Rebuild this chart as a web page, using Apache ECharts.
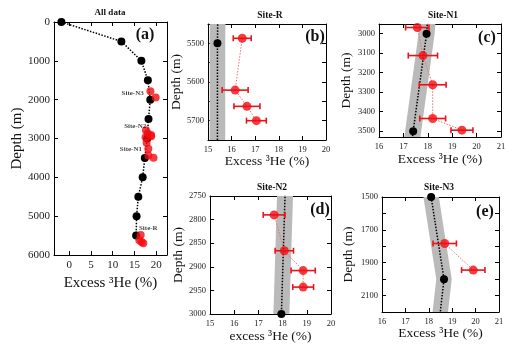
<!DOCTYPE html>
<html>
<head>
<meta charset="utf-8">
<script src="https://cdn.jsdelivr.net/npm/echarts@6.0.0/dist/echarts.min.js"></script>
<style>
  html, body { margin: 0; padding: 0; background: #fff; }
  #chart { width: 520px; height: 351px; }
</style>
</head>
<body>
<div id="chart"></div>
<script>
"use strict";
// black profile (all data)
const profileDepth = [0, 500, 1000, 1500, 2000, 2500, 3000, 3500, 4000, 4500, 5000, 5500];
const profileHe = [-1.8, 12.0, 16.6, 18.1, 18.65, 18.25, 17.95, 17.4, 16.9, 15.9, 15.5, 15.4];
// the profile is carried on below its last sample in the zoomed panels
const profileTailDepth = 6000;
const profileTailHe = 15.4;
const bandHalfWidth = 0.33;

// red site samples
const siteRDepth = [5487, 5621, 5663, 5700];
const siteRHe = [16.45, 16.15, 16.65, 17.05];
const siteRErr = [0.38, 0.55, 0.55, 0.42];

const siteN1Depth = [2968, 3112, 3262, 3435, 3495];
const siteN1He = [17.57, 17.8, 18.2, 18.2, 19.4];
const siteN1Err = [0.48, 0.6, 0.55, 0.53, 0.45];

const siteN2Depth = [2790, 2866, 2908, 2943];
const siteN2He = [17.65, 18.07, 18.85, 18.85];
const siteN2Err = [0.45, 0.38, 0.5, 0.43];

const siteN3Depth = [1783, 1945];
const siteN3He = [18.68, 19.9];
const siteN3Err = [0.5, 0.5];

// site labels in panel (a)
const siteLabelNames = ["Site-N3", "Site-N2", "Site-N1", "Site-R"];
const siteLabelHe = [14.6, 15.2, 14.2, 18.2];
const siteLabelDepth = [1830, 2680, 3270, 5320];

// tick values
const ticksA_x = [0, 5, 10, 15, 20];
const ticksA_y = [0, 1000, 2000, 3000, 4000, 5000, 6000];
const ticksB_x = [15, 16, 17, 18, 19, 20];
const ticksB_y = [5450, 5500, 5550, 5600, 5650, 5700, 5750];
const labelsB_y = [5500, 5600, 5700];
const ticksC_x = [16, 17, 18, 19, 20, 21];
const ticksC_y = [3000, 3100, 3200, 3300, 3400, 3500];
const ticksD_x = [15, 16, 17, 18, 19, 20];
const ticksD_y = [2750, 2800, 2850, 2900, 2950, 3000];
const ticksE_x = [16, 17, 18, 19, 20, 21];
const ticksE_y = [1500, 1600, 1700, 1800, 1900, 2000, 2100, 2200];
const labelsE_y = [1500, 1700, 1900, 2100];

const FONT = '"Liberation Serif", "Times New Roman", serif';

const zip = (a, b) => a.map((v, i) => [v, b[i]]);
const profilePts = zip(profileHe, profileDepth);
const profileExt = profilePts.concat([[profileTailHe, profileTailDepth]]);

const panels = [
    { grid: { left: 54, top: 22, width: 113, height: 233 }, x: [-3.5, 22.5], y: [0, 6000],
      xt: ticksA_x, xl: ticksA_x, yt: ticksA_y, yl: ticksA_y, big: true,
      xName: "Excess \u00b3He (%)", xGap: 13, yGap: 29 },
    { grid: { left: 208, top: 24, width: 118, height: 116 }, x: [15, 20], y: [5450, 5750],
      xt: ticksB_x, xl: ticksB_x, yt: ticksB_y, yl: labelsB_y,
      xName: "Excess \u00b3He (%)", xGap: 12, yGap: 20 },
    { grid: { left: 379, top: 24, width: 122, height: 113 }, x: [16, 21], y: [2950, 3530],
      xt: ticksC_x, xl: ticksC_x, yt: ticksC_y, yl: ticksC_y,
      xName: "Excess \u00b3He (%)", xGap: 15, yGap: 26 },
    { grid: { left: 210, top: 196, width: 121, height: 118 }, x: [15, 20], y: [2750, 3000],
      xt: ticksD_x, xl: ticksD_x, yt: ticksD_y, yl: ticksD_y,
      xName: "excess \u00b3He (%)", xGap: 15, yGap: 24 },
    { grid: { left: 382, top: 197, width: 117, height: 115 }, x: [16, 21], y: [1500, 2200],
      xt: ticksE_x, xl: ticksE_x, yt: ticksE_y, yl: labelsE_y,
      xName: "Excess \u00b3He (%)", xGap: 14, yGap: 27 },
];

const grid = [];
const xAxis = [];
const yAxis = [];
panels.forEach((p, i) => {
    grid.push(p.grid);
    const labelSize = p.big ? 11 : 8.5;
    const nameSize = p.big ? 15 : 13.5;
    const line = { show: true, onZero: false, lineStyle: { color: "#000", width: 1 } };
    const tick = (vals) => ({ show: true, inside: true, length: 4, customValues: vals, lineStyle: { color: "#000" } });
    const plain = (v) => String(v);
    xAxis.push({
        type: "value", gridIndex: i, min: p.x[0], max: p.x[1], position: "bottom",
        axisLine: line, axisTick: tick(p.xt), splitLine: { show: false },
        axisLabel: { customValues: p.xl, formatter: plain, fontFamily: FONT, fontSize: labelSize, color: "#222", margin: 5 },
        name: p.xName, nameLocation: "middle", nameGap: p.xGap,
        nameTextStyle: { fontFamily: FONT, fontSize: nameSize, color: "#111" },
    });
    xAxis.push({
        type: "value", gridIndex: i, min: p.x[0], max: p.x[1], position: "top",
        axisLine: line, axisTick: tick(p.xt), splitLine: { show: false }, axisLabel: { show: false },
    });
    yAxis.push({
        type: "value", gridIndex: i, min: p.y[0], max: p.y[1], inverse: true, position: "left",
        axisLine: line, axisTick: tick(p.yt), splitLine: { show: false },
        axisLabel: { customValues: p.yl, formatter: plain, fontFamily: FONT, fontSize: labelSize, color: "#222", margin: 4 },
        name: "Depth (m)", nameLocation: "middle", nameGap: p.yGap,
        nameTextStyle: { fontFamily: FONT, fontSize: nameSize, color: "#111" },
    });
    yAxis.push({
        type: "value", gridIndex: i, min: p.y[0], max: p.y[1], inverse: true, position: "right",
        axisLine: line, axisTick: tick(p.yt), splitLine: { show: false }, axisLabel: { show: false },
    });
});

const series = [];

// gray band around the black profile
const bandSeries = (i) => ({
    type: "custom", xAxisIndex: i * 2, yAxisIndex: i * 2, clip: true, z: 1,
    data: profileExt,
    renderItem: (params, api) => {
        if (params.dataIndex !== 0) {
            return null;
        }
        const left = profileExt.map(([he, d]) => api.coord([he - bandHalfWidth, d]));
        const right = profileExt.map(([he, d]) => api.coord([he + bandHalfWidth, d])).reverse();
        const cs = params.coordSys;
        return {
            type: "polygon",
            shape: { points: left.concat(right) },
            style: { fill: "#bababa" },
            clipPath: { type: "rect", shape: { x: cs.x, y: cs.y, width: cs.width, height: cs.height } },
        };
    },
});

const blackLine = (i, pts) => ({
    type: "line", xAxisIndex: i * 2, yAxisIndex: i * 2, data: pts, z: 3,
    symbol: "circle", symbolSize: (v) => v[1] === profileTailDepth ? 0 : 8,
    itemStyle: { color: "#000" },
    lineStyle: { color: "#000", width: 1.5, type: [1.5, 1.5] },
    clip: true, animation: false,
});

const errorBars = (i, he, depth, err) => ({
    type: "custom", xAxisIndex: i * 2, yAxisIndex: i * 2, z: 5,
    data: he.map((v, k) => [v, depth[k], err[k]]),
    encode: { x: 0, y: 1 },
    renderItem: (params, api) => {
        const lo = api.coord([api.value(0) - api.value(2), api.value(1)]);
        const hi = api.coord([api.value(0) + api.value(2), api.value(1)]);
        const st = { stroke: "#e8141a", lineWidth: 1.6 };
        return {
            type: "group",
            children: [
                { type: "line", shape: { x1: lo[0], y1: lo[1], x2: hi[0], y2: hi[1] }, style: st },
                { type: "line", shape: { x1: lo[0], y1: lo[1] - 3, x2: lo[0], y2: lo[1] + 3 }, style: st },
                { type: "line", shape: { x1: hi[0], y1: hi[1] - 3, x2: hi[0], y2: hi[1] + 3 }, style: st },
            ],
        };
    },
});

const redLine = (i, he, depth) => ({
    type: "line", xAxisIndex: i * 2, yAxisIndex: i * 2, data: zip(he, depth), z: 4,
    symbol: "none", lineStyle: { color: "#f07070", width: 1, type: [1.5, 1.5] },
});

const redDots = (i, he, depth, size) => ({
    type: "scatter", xAxisIndex: i * 2, yAxisIndex: i * 2, data: zip(he, depth), z: 6,
    symbolSize: size, itemStyle: { color: "#f20c12" },
});

// panel (a): all data
series.push(blackLine(0, profilePts));
[[siteN3He, siteN3Depth], [siteN2He, siteN2Depth], [siteN1He, siteN1Depth], [siteRHe, siteRDepth]]
    .forEach(([he, d]) => series.push(redDots(0, he, d, 8)));
series.push({
    type: "scatter", xAxisIndex: 0, yAxisIndex: 0, z: 7, symbolSize: 0,
    data: siteLabelHe.map((v, k) => ({ value: [v, siteLabelDepth[k]], name: siteLabelNames[k] })),
    label: { show: true, position: "inside", formatter: "{b}", fontFamily: FONT, fontSize: 7, fontWeight: "bold", color: "#111" },
});

// zoomed panels
const sites = [
    [1, siteRHe, siteRDepth, siteRErr],
    [2, siteN1He, siteN1Depth, siteN1Err],
    [3, siteN2He, siteN2Depth, siteN2Err],
    [4, siteN3He, siteN3Depth, siteN3Err],
];
sites.forEach(([i, he, d, e]) => {
    series.push(bandSeries(i));
    series.push(blackLine(i, profileExt));
    series.push(redLine(i, he, d));
    series.push(errorBars(i, he, d, e));
    series.push(redDots(i, he, d, 9));
});

const txt = (text, x, y, size) => ({
    type: "text", x, y, z: 10,
    style: { text, font: `bold ${size}px ${FONT}`, fill: "#111", textAlign: "center", textVerticalAlign: "middle", align: "center", verticalAlign: "middle" },
});

const chart = echarts.init(document.getElementById("chart"), null, { renderer: "canvas" });
chart.setOption({
    animation: false,
    backgroundColor: "#fff",
    grid, xAxis, yAxis, series,
    graphic: [
        txt("All data", 110, 13, 9),
        txt("Site-R", 270, 16, 9.5),
        txt("Site-N1", 443, 16, 9.5),
        txt("Site-N2", 272, 188, 9.5),
        txt("Site-N3", 439, 188, 9.5),
        txt("(a)", 145, 35, 16),
        txt("(b)", 315, 37, 16),
        txt("(c)", 487, 38, 16),
        txt("(d)", 320, 210, 16),
        txt("(e)", 485, 212, 16),
    ],
});
</script>
</body>
</html>
